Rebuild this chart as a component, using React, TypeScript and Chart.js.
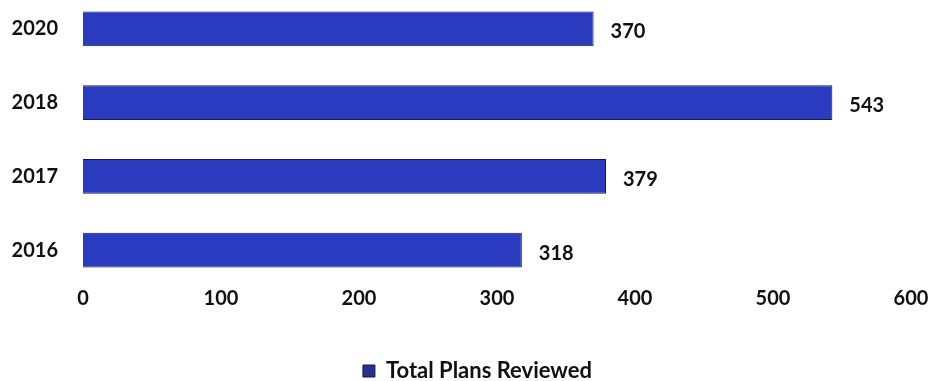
import React, { useEffect, useRef } from "react";
import { Chart, registerables } from "chart.js";

Chart.register(...registerables);

const categories = ["2020", "2018", "2017", "2016"];
const seriesName = "Total Plans Reviewed";
const values = [370, 543, 379, 318];
const xTicks = [0, 100, 200, 300, 400, 500, 600];

const FONT = "Lato, 'Open Sans', sans-serif";
const CANVAS_TOP = -45;
const CANVAS_H = 437;

const valueLabels = {
  id: "valueLabels",
  afterDatasetsDraw(chart: any) {
    const ctx = chart.ctx;
    const meta = chart.getDatasetMeta(0);
    ctx.save();
    ctx.font = `bold 20px ${FONT}`;
    ctx.fillStyle = "#111";
    ctx.textAlign = "left";
    ctx.textBaseline = "middle";
    meta.data.forEach((bar: any, i: number) => {
      ctx.fillText(String(values[i]), bar.x + 17, bar.y + 3);
    });
    ctx.restore();
  },
};

// nudge the legend block so it sits where the reference shows it
const legendShift = {
  id: "legendShift",
  afterLayout(chart: any) {
    const l = chart.legend;
    if (!l) return;
    l.left += 22;
    l.right += 22;
    if (l.legendHitBoxes) l.legendHitBoxes.forEach((b: any) => (b.left += 22));
  },
};

export default function App() {
  const ref = useRef<HTMLCanvasElement | null>(null);
  useEffect(() => {
    if (!ref.current) return;
    const chart = new Chart(ref.current, {
      type: "bar",
      data: {
        labels: categories,
        datasets: [
          {
            label: seriesName,
            data: values,
            backgroundColor: "#2b3bbf",
            borderColor: "#161b4c",
            borderWidth: 1,
            barPercentage: 0.47,
            categoryPercentage: 1,
          },
        ],
      },
      options: {
        indexAxis: "y",
        animation: false,
        responsive: false,
        maintainAspectRatio: false,
        layout: { padding: { top: 0, right: 22, left: 0, bottom: 0 } },
        scales: {
          x: {
            min: 0,
            max: 600,
            afterBuildTicks: (s: any) => {
              s.ticks = xTicks.map((v) => ({ value: v }));
            },
            grid: { display: false, drawTicks: false },
            border: { display: false },
            ticks: {
              padding: 0,
              color: "#111",
              font: { family: FONT, size: 20, weight: "bold" },
            },
          },
          y: {
            grid: { display: false, drawTicks: false },
            border: { display: false },
            afterFit: (s: any) => {
              s.width = 83;
            },
            ticks: {
              padding: 25,
              color: "#111",
              font: { family: FONT, size: 20, weight: "bold" },
            },
          },
        },
        plugins: {
          tooltip: { enabled: false },
          legend: {
            position: "bottom",
            labels: {
              boxWidth: 12,
              boxHeight: 12,
              padding: 49,
              color: "#111",
              font: { family: FONT, size: 22, weight: "bold" },
              generateLabels: (c: any) =>
                Chart.defaults.plugins.legend.labels
                  .generateLabels(c)
                  .map((it: any) => ({ ...it, fillStyle: "#28318f", strokeStyle: "#161b4c" })),
            },
          },
        },
      },
      plugins: [valueLabels, legendShift],
    } as any);
    return () => chart.destroy();
  }, []);
  return (
    <div
      style={{
        position: "absolute",
        left: 0,
        top: 0,
        width: 933,
        height: 381,
        overflow: "hidden",
        background: "#fff",
      }}
    >
      <canvas
        ref={ref}
        width={933}
        height={CANVAS_H}
        style={{ display: "block", position: "absolute", left: 0, top: CANVAS_TOP }}
      />
    </div>
  );
}
